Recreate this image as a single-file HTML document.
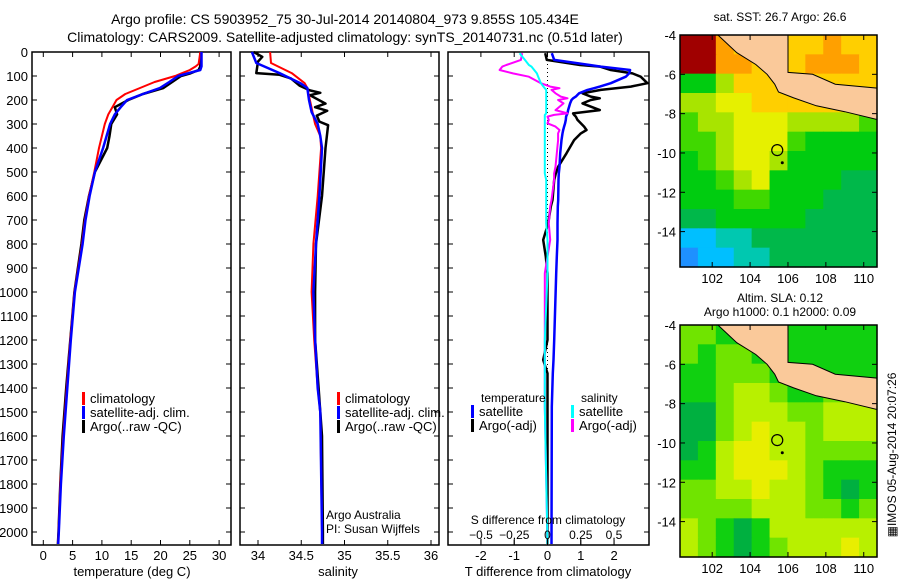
<!DOCTYPE html>
<html><head><meta charset="utf-8">
<style>
body{margin:0;background:#fff;}
svg{display:block;font-family:"Liberation Sans",sans-serif;}
</style></head>
<body>
<svg id="fig" width="900" height="580" viewBox="0 0 900 580" xmlns="http://www.w3.org/2000/svg">
<rect width="900" height="580" fill="#fff"/>
<text x="345" y="24" font-size="14" text-anchor="middle">Argo profile: CS 5903952_75 30-Jul-2014 20140804_973 9.855S 105.434E</text>
<text x="345" y="42" font-size="14" text-anchor="middle">Climatology: CARS2009. Satellite-adjusted climatology: synTS_20140731.nc (0.51d later)</text>
<text x="780" y="21" font-size="12" text-anchor="middle">sat. SST: 26.7 Argo: 26.6</text>
<text x="780" y="302" font-size="12" text-anchor="middle">Altim. SLA: 0.12</text>
<text x="780" y="316" font-size="12" text-anchor="middle">Argo h1000: 0.1 h2000: 0.09</text>
<text transform="translate(896,455) rotate(-90)" font-size="12" text-anchor="middle">&#9638;IMOS 05-Aug-2014 20:07:26</text>
<g id="g"></g>
</svg>
<script>
// ---------- data ----------
const tDepth=[0,50,60,75,90,100,125,150,175,200,230,260,300,350,400,500,600,700,800,1000,1200,1400,1600,1800,2000,2050];
const tClim =[26.8,26.5,26,25,23.5,22.5,19,16.5,14,12.5,11.8,11.1,10.5,10,9.5,8.7,7.8,7.1,6.6,5.3,4.6,4.0,3.4,2.9,2.6,2.5];
const tSat  =[27,27,27,26.8,24.5,23,21.5,19.9,17,14.3,13.2,12.2,11.4,10.8,10.2,8.8,7.9,7.2,6.7,5.4,4.7,4.1,3.5,3.0,2.65,2.55];
const tArgo =[26.8,26.8,26.8,26.5,25,23.5,22,20.5,17,14.5,12.2,12.6,11.6,11.3,10.9,8.8,7.8,7.0,6.5,5.3,4.6,3.9,3.3,2.9,2.6,2.5];
const sDepth=[0,46,88,130,150,200,250,300,350,400,600,800,1000,1200,1400,1500,2000,2050];
const sClim =[34.14,34.15,34.39,34.54,34.57,34.6,34.63,34.66,34.72,34.73,34.69,34.64,34.62,34.65,34.69,34.72,34.74,34.74];
const sSat  =[33.93,33.98,34.25,34.49,34.57,34.59,34.62,34.69,34.72,34.74,34.71,34.67,34.64,34.66,34.69,34.72,34.74,34.74];
const saDepth=[0,20,40,88,95,110,140,160,170,180,215,230,245,265,290,305,400,600,800,1000,1200,1400,1600,2000,2050];
const sArgo =[33.95,34.05,34.0,33.98,34.25,34.38,34.48,34.6,34.72,34.6,34.78,34.66,34.8,34.68,34.71,34.81,34.78,34.74,34.67,34.66,34.66,34.7,34.74,34.75,34.75];
const dDepth=[5,33,54,61,75,89,103,130,144,151,158,172,186,193,200,214,242,256,262,269,283,297,311,325,339,367,422,478,506,533,617,644,714,783,853,922,1200,1283,1339,1478,2050];
const dTsat =[0.13,0.2,1.27,1.6,2.48,2.45,2.35,1.9,1.57,1.4,1.2,0.95,0.85,0.77,0.72,0.68,0.62,0.6,0.58,0.56,0.55,0.53,0.5,0.47,0.45,0.42,0.38,0.36,0.34,0.33,0.32,0.31,0.3,0.3,0.28,0.26,0.2,0.18,0.16,0.13,0.12];
const dTargo=[-0.07,-0.02,0.98,1.57,1.9,2.55,2.8,3.0,2.5,2.05,1.6,1.05,1.3,1.57,1.3,1.05,1.57,0.77,0.8,0.85,0.9,1.0,1.1,1.17,1.0,0.8,0.57,0.32,0.25,0.2,0.15,0.1,0.02,-0.13,-0.05,0.0,0.0,-0.13,0.0,0.0,0.0];
const dSsat =[-0.21,-0.17,-0.14,-0.12,-0.1,-0.08,-0.07,-0.05,-0.03,-0.02,-0.01,-0.01,-0.01,-0.01,-0.01,-0.01,-0.01,-0.01,-0.02,-0.02,-0.02,-0.02,-0.02,-0.02,-0.02,-0.02,-0.02,-0.02,-0.02,-0.01,-0.01,-0.01,-0.01,0.0,0.0,0.0,-0.02,-0.02,-0.02,-0.02,0.0];
const dSargo=[-0.19,-0.2,-0.31,-0.34,-0.36,-0.26,-0.14,-0.05,0.02,0.09,0.03,0.06,0.1,0.15,0.08,0.12,0.06,0.15,0.05,0.0,0.01,0.0,0.06,0.09,0.08,0.08,0.07,0.06,0.05,0.05,0.03,0.02,0.01,0.02,0.0,-0.02,-0.02,-0.02,-0.02,-0.02,0.0];
const depthTicks=[0,100,200,300,400,500,600,700,800,900,1000,1100,1200,1300,1400,1500,1600,1700,1800,1900,2000];
const tTicks=[0,5,10,15,20,25,30];
const sTicks=[34,34.5,35,35.5,36];
const dTTicks=[-2,-1,0,1,2];
const dSTicks=[-0.5,-0.25,0,0.25,0.5];
const sstGrid=[
[10,10,9,8,8,8,8,8,9,8,8],
[10,10,9,9,8,8,8,9,9,9,8],
[4,4,6,8,8,8,9,8,8,8,8],
[6,6,7,7,8,8,8,8,8,8,8],
[5,6,6,7,7,7,6,6,6,6,5],
[5,5,6,7,7,7,5,4,4,4,4],
[4,5,6,7,7,6,4,4,4,4,4],
[4,4,5,6,7,4,4,4,4,3,3],
[4,4,4,5,5,4,4,4,3,3,3],
[3,3,4,4,4,4,4,3,3,3,3],
[1,1,2,2,3,3,3,3,3,3,3],
[0,1,1,2,2,3,3,3,3,3,3]];
const slaGrid=[
[2,2,1,1,1,1,1,1,1,1,1],
[2,1,2,2,1,1,1,1,1,1,1],
[1,1,2,2,2,1,1,1,1,1,1],
[1,1,2,3,3,2,1,1,2,2,2],
[0,0,2,3,3,3,2,2,3,3,3],
[0,0,2,3,4,3,3,2,3,3,3],
[0,1,3,4,4,3,3,2,2,2,2],
[1,1,3,4,4,4,3,2,1,1,1],
[2,2,3,3,4,3,3,2,1,0,1],
[2,2,2,2,3,3,3,2,2,1,2],
[3,2,1,0,1,3,3,3,3,3,3],
[3,2,1,0,1,2,3,3,3,4,3]];
const lonTicks=[102,104,106,108,110];
const latTicks=[-4,-6,-8,-10,-12,-14];
const landLon=[102.3,103.3,104.3,104.9,105.3,105.5,106.3,107.5,109,110.7,110.7,108.5,107.3,106,106];
const landLat=[-4,-4.9,-5.5,-6.0,-6.5,-6.9,-7.2,-7.6,-7.9,-8.3,-6.7,-6.5,-6.0,-5.9,-4];
const floatLon=105.434, floatLat=-9.855;

// ---------- helpers ----------
const NS="http://www.w3.org/2000/svg";
const G=document.getElementById('g');
function el(tag,attrs,parent){const e=document.createElementNS(NS,tag);for(const k in attrs)e.setAttribute(k,attrs[k]);(parent||G).appendChild(e);return e;}
const yD=d=>52+d*0.24;
const top0=52,bot=545;
function panel(x0,x1,name){
  const r=el('rect',{x:x0,y:top0,width:x1-x0,height:bot-top0,fill:'none',stroke:'#000','stroke-width':1.5});
  
  
  depthTicks.forEach(d=>{
    el('line',{x1:x0,x2:x0+5,y1:yD(d),y2:yD(d),stroke:'#000'});
    el('line',{x1:x1,x2:x1-5,y1:yD(d),y2:yD(d),stroke:'#000'});
  });
}
function line(xs,ds,xf,color,w,name){
  const pts=xs.map((v,i)=>xf(v).toFixed(1)+','+yD(ds[i]).toFixed(1)).join(' ');
  const p=el('polyline',{points:pts,fill:'none',stroke:color,'stroke-width':w,'stroke-linejoin':'round'});
  
  
}
function txt(x,y,s,size,anchor,name){const t=el('text',{x:x,y:y,'font-size':size,'text-anchor':anchor||'start'});t.textContent=s;
  
  
  return t;}

// ---------- panel 1: temperature ----------
const xT=v=>43.3+v*5.86;
panel(32,231,'temperature-panel');
depthTicks.forEach(d=>txt(28,yD(d)+5,String(d),13,'end','depth-tick-label'));
tTicks.forEach(v=>{el('line',{x1:xT(v),x2:xT(v),y1:bot,y2:bot-5,stroke:'#000'});el('line',{x1:xT(v),x2:xT(v),y1:top0,y2:top0+5,stroke:'#000'});txt(xT(v),560,String(v),13,'middle','temperature-tick-label');});
txt(132,576,'temperature (deg C)',13,'middle','temperature-axis-title');
line(tArgo,tDepth,xT,'#000',2.5,'temperature-argo-line');
line(tClim,tDepth,xT,'#f00',2,'temperature-climatology-line');
line(tSat,tDepth,xT,'#00f',2.5,'temperature-satellite-line');
function legend(x,y,items,name){items.forEach((it,i)=>{
  const r=el('rect',{x:x,y:y+i*14-11,width:3,height:13,fill:it[1]});
  
  
  txt(x+8,y+i*14,it[0],13,'start',name+'-entry');});}
legend(82,403,[['climatology','#f00'],['satellite-adj. clim.','#00f'],['Argo(..raw -QC)','#000']],'temperature-legend');

// ---------- panel 2: salinity ----------
const xS=v=>258+(v-34)*86.5;
panel(240,439,'salinity-panel');
sTicks.forEach(v=>{el('line',{x1:xS(v),x2:xS(v),y1:bot,y2:bot-5,stroke:'#000'});el('line',{x1:xS(v),x2:xS(v),y1:top0,y2:top0+5,stroke:'#000'});txt(xS(v),560,String(v),13,'middle','salinity-tick-label');});
txt(338,576,'salinity',13,'middle','salinity-axis-title');
line(sArgo,saDepth,xS,'#000',2.5,'salinity-argo-line');
line(sClim,sDepth,xS,'#f00',2,'salinity-climatology-line');
line(sSat,sDepth,xS,'#00f',2.5,'salinity-satellite-line');
legend(337,403,[['climatology','#f00'],['satellite-adj. clim.','#00f'],['Argo(..raw -QC)','#000']],'salinity-legend');
txt(326,519,'Argo Australia',12,'start','credit-line-1');
txt(326,533,'PI: Susan Wijffels',12,'start','credit-line-2');

// ---------- panel 3: differences ----------
const xDT=v=>547.5+v*33.3;
const xDS=v=>547.5+v*133;
panel(448,649,'difference-panel');
el('line',{x1:547.5,x2:547.5,y1:top0,y2:bot,stroke:'#000','stroke-dasharray':'1,3'});
dTTicks.forEach(v=>{el('line',{x1:xDT(v),x2:xDT(v),y1:bot,y2:bot-5,stroke:'#000'});el('line',{x1:xDT(v),x2:xDT(v),y1:top0,y2:top0+5,stroke:'#000'});txt(xDT(v),560,String(v),13,'middle','t-diff-tick-label');});
txt(548,576,'T difference from climatology',13,'middle','t-diff-axis-title');
line(dTargo,dDepth,xDT,'#000',2.5,'t-diff-argo-line');
line(dTsat,dDepth,xDT,'#00f',2.5,'t-diff-satellite-line');
line(dSargo,dDepth,xDS,'#f0f',2,'s-diff-argo-line');
line(dSsat,dDepth,xDS,'#0ff',2,'s-diff-satellite-line');
dSTicks.forEach(v=>{el('line',{x1:xDS(v),x2:xDS(v),y1:bot,y2:bot-6,stroke:'#000'});txt(xDS(v),539,String(v).replace('-','\u2212'),12,'middle','s-diff-tick-label');});
txt(548,524,'S difference from climatology',12,'middle','s-diff-axis-title');
txt(481,402,'temperature',12,'start','t-diff-legend-title');
txt(581,402,'salinity',12,'start','s-diff-legend-title');
legend(471,416,[['satellite','#00f'],['Argo(-adj)','#000']],'t-diff-legend');
legend(571,416,[['satellite','#0ff'],['Argo(-adj)','#f0f']],'s-diff-legend');

// ---------- maps ----------
const sstPal=['#1e90ff','#00bfff','#00c8b0','#00b84a','#00cc10','#40d800','#a8e400','#e6f000','#ffcf00','#ffa000','#a00000'];
const slaPal=['#00b040','#10d010','#70e400','#b8f000','#e8ee00'];
function map(y0,grid,pal,name){
  const x0=680,x1=877,lon0=100.3,lon1=110.7,lat0=-4,lat1=-15.8;
  const y1=y0+232;
  const px=l=>x0+(l-lon0)*(x1-x0)/(lon1-lon0);
  const py=l=>y0+(lat0-l)*(y1-y0)/(lat0-lat1);
  const rows=grid.length,cols=grid[0].length,cw=(x1-x0)/cols,ch=(y1-y0)/rows;
  grid.forEach((row,r)=>row.forEach((v,c)=>{
    const cell=el('rect',{x:(x0+c*cw).toFixed(2),y:(y0+r*ch).toFixed(2),width:(cw+0.6).toFixed(2),height:(ch+0.6).toFixed(2),fill:pal[v]});
    
    
  }));
  const land=el('polygon',{points:landLon.map((l,i)=>px(l).toFixed(1)+','+py(landLat[i]).toFixed(1)).join(' '),fill:'#fac99a',stroke:'#000','stroke-width':1});
  
  
  const c=el('circle',{cx:px(floatLon),cy:py(floatLat),r:5.5,fill:'none',stroke:'#000','stroke-width':1.2});
  
  
  el('circle',{cx:px(105.7),cy:py(-10.5),r:1.5,fill:'#000'});
  const fr=el('rect',{x:x0,y:y0,width:x1-x0,height:y1-y0,fill:'none',stroke:'#000','stroke-width':1.5});
  
  
  lonTicks.forEach(l=>{el('line',{x1:px(l),x2:px(l),y1:y1,y2:y1-5,stroke:'#000'});el('line',{x1:px(l),x2:px(l),y1:y0,y2:y0+5,stroke:'#000'});txt(px(l),y1+16,String(l),13,'middle',name+'-lon-label');});
  latTicks.forEach(l=>{el('line',{x1:x0,x2:x0+5,y1:py(l),y2:py(l),stroke:'#000'});el('line',{x1:x1,x2:x1-5,y1:py(l),y2:py(l),stroke:'#000'});txt(x0-4,py(l)+5,String(l),13,'end',name+'-lat-label');});
}
map(35,sstGrid,sstPal,'sst-map');
map(325,slaGrid,slaPal,'sla-map');
</script>
</body></html>
